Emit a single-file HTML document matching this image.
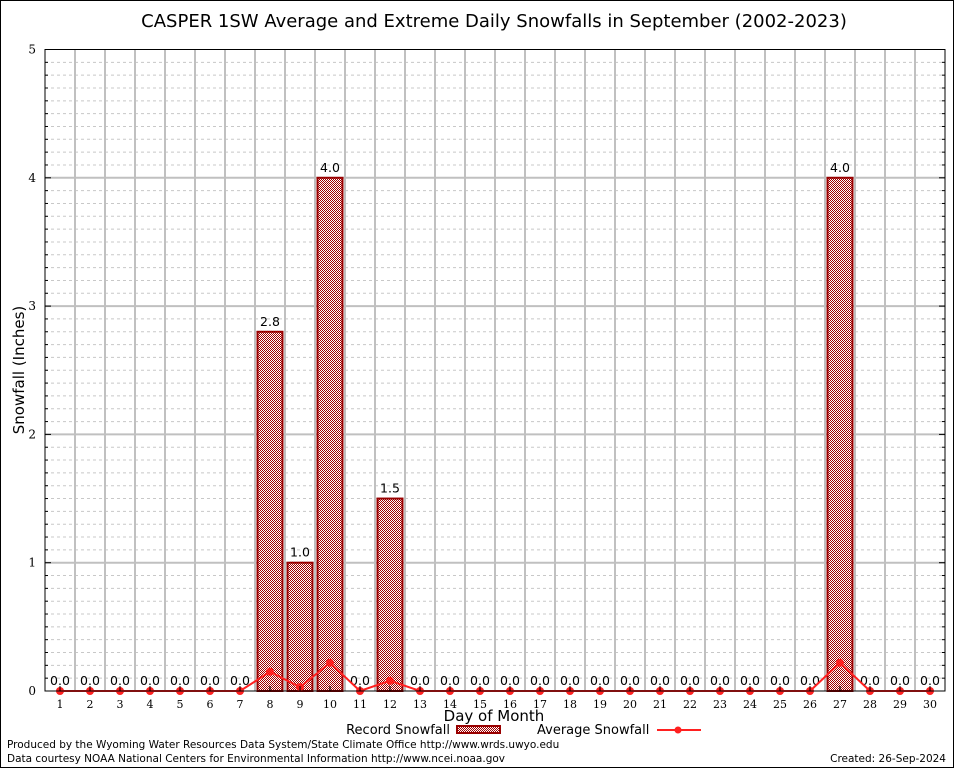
<!DOCTYPE html>
<html><head><meta charset="utf-8"><style>
html,body{margin:0;padding:0;background:#fff}
svg{display:block}
text{font-family:"DejaVu Sans","Liberation Sans",sans-serif}
.serif{font-family:"DejaVu Serif","Liberation Serif",serif}
</style></head><body>
<svg id="chart" width="954" height="768" viewBox="0 0 954 768" xmlns="http://www.w3.org/2000/svg">
<defs>
<pattern id="chk" width="2" height="2" patternUnits="userSpaceOnUse">
<rect width="2" height="2" fill="#fff"/><rect width="1" height="1" fill="#a00000"/><rect x="1" y="1" width="1" height="1" fill="#a00000"/>
</pattern>
</defs>
<rect x="0.5" y="0.5" width="953" height="767" fill="#fff" stroke="#000"/>
<text x="494" y="27" font-size="18" text-anchor="middle">CASPER 1SW Average and Extreme Daily Snowfalls in September (2002-2023)</text>
<g id="grid"></g>
<g id="bars"></g>
<g id="avg"></g>
<g id="axes"></g>
<text x="24" y="370" font-size="15" text-anchor="middle" transform="rotate(-90 24 370)">Snowfall (Inches)</text>
<text x="494" y="721" font-size="15" text-anchor="middle">Day of Month</text>
<g>
<text x="450" y="734" font-size="13" text-anchor="end">Record Snowfall</text>
<rect x="457" y="726" width="43" height="7" fill="url(#chk)" stroke="#990000" stroke-width="2"/>
<text x="537" y="734" font-size="13">Average Snowfall</text>
<line x1="657" y1="730" x2="701" y2="730" stroke="#ff2020" stroke-width="2"/>
<circle cx="678" cy="730" r="3.5" fill="#ff2020"/>
</g>
<text x="7" y="748" font-size="10.5">Produced by the Wyoming Water Resources Data System/State Climate Office http://www.wrds.uwyo.edu</text>
<text x="7" y="762" font-size="10.5">Data courtesy NOAA National Centers for Environmental Information http://www.ncei.noaa.gov</text>
<text x="946" y="762" font-size="10.5" text-anchor="end">Created: 26-Sep-2024</text>
</svg>
<script>
const days=[1,2,3,4,5,6,7,8,9,10,11,12,13,14,15,16,17,18,19,20,21,22,23,24,25,26,27,28,29,30];
const recordSnow=[0,0,0,0,0,0,0,2.8,1.0,4.0,0,1.5,0,0,0,0,0,0,0,0,0,0,0,0,0,0,4.0,0,0,0];
const avgSnow=[0,0,0,0,0,0,0,0.15,0.03,0.22,0,0.08,0,0,0,0,0,0,0,0,0,0,0,0,0,0,0.22,0,0,0];
const yTicks=[0,1,2,3,4,5];
const NS="http://www.w3.org/2000/svg";
const L=45,R=945,T=49.5,B=691;
const xS=d=>L+(d-0.5)*(R-L)/30;
const yS=v=>B-v*(B-T)/5;
function mk(tag,attrs,parent,txt){const e=document.createElementNS(NS,tag);for(const k in attrs)e.setAttribute(k,attrs[k]);if(txt!==undefined)e.textContent=txt;parent.appendChild(e);return e;}
const grid=document.getElementById('grid'),bars=document.getElementById('bars'),avg=document.getElementById('avg'),axes=document.getElementById('axes');
for(let i=1;i<50;i++){if(i%10===0)continue;const y=yS(i/10);mk('line',{x1:L,x2:R,y1:y,y2:y,stroke:'#c8c8c8','stroke-dasharray':'3,3','stroke-width':1},grid);}
for(let i=1;i<30;i++){const x=xS(i+0.5);const g=mk('line',{x1:x,x2:x,y1:T,y2:B,stroke:'#c0c0c0','stroke-width':2},grid);

}
yTicks.forEach(v=>{if(v===0||v===5)return;const y=yS(v);mk('line',{x1:L,x2:R,y1:y,y2:y,stroke:'#c0c0c0','stroke-width':2},grid);});
days.forEach((d,i)=>{
 const v=recordSnow[i],cx=xS(d);
 if(v>0){const r=mk('rect',{x:cx-12.5,y:yS(v),width:25,height:B-yS(v),fill:'url(#chk)',stroke:'#990000','stroke-width':2},bars);
 
 }
 const t=mk('text',{x:cx,y:yS(v)-6,'font-size':12.5,'text-anchor':'middle'},bars,v.toFixed(1));
 
 
});
const pts=days.map((d,i)=>xS(d)+','+yS(avgSnow[i])).join(' ');
const pl=mk('polyline',{points:pts,fill:'none',stroke:'#ff2020','stroke-width':2},avg);


days.forEach((d,i)=>{const c=mk('circle',{cx:xS(d),cy:yS(avgSnow[i]),r:4,fill:'#ff2020'},avg);

});
mk('rect',{x:L,y:T,width:R-L,height:B-T,fill:'none',stroke:'#000','stroke-width':1},axes);
yTicks.forEach(v=>{const y=yS(v);
 mk('line',{x1:L,x2:L+6,y1:y,y2:y,stroke:'#000'},axes);mk('line',{x1:R-6,x2:R,y1:y,y2:y,stroke:'#000'},axes);
 const t=mk('text',{x:36,y:y+4,'font-size':12,'text-anchor':'end',class:'serif'},axes,String(v));
 
 });
for(let i=1;i<50;i++){if(i%10===0)continue;const y=yS(i/10);mk('line',{x1:L,x2:L+3,y1:y,y2:y,stroke:'#000'},axes);mk('line',{x1:R-3,x2:R,y1:y,y2:y,stroke:'#000'},axes);}
days.forEach(d=>{const x=xS(d);mk('line',{x1:x,x2:x,y1:B-5,y2:B,stroke:'#000'},axes);
 const t=mk('text',{x:x,y:708,'font-size':11,'text-anchor':'middle',class:'serif'},axes,String(d));
 
 });
</script>
</body></html>
